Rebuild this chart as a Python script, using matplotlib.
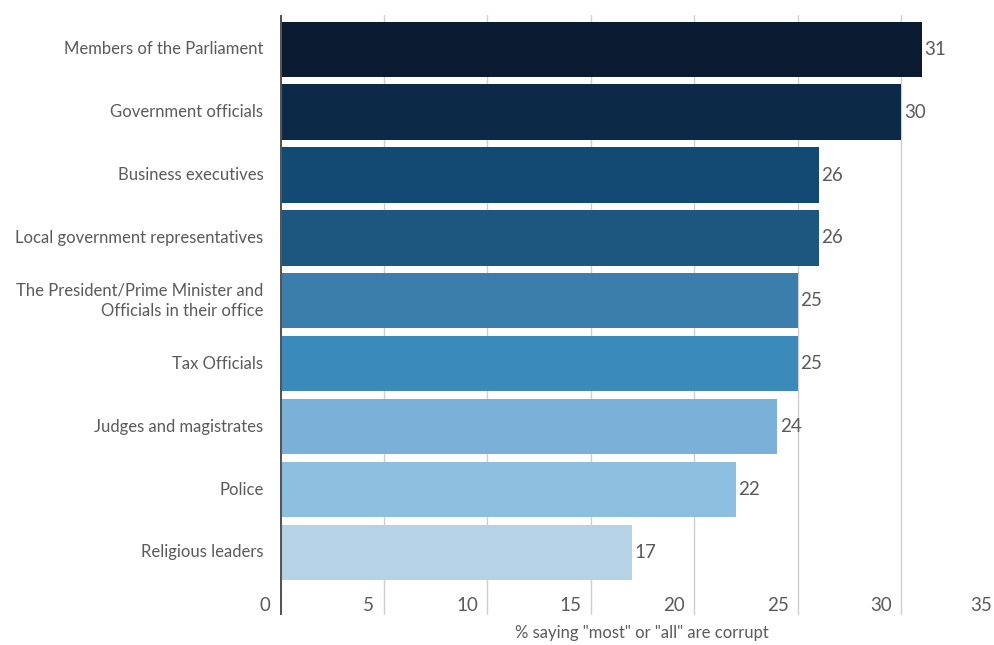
import matplotlib.pyplot as plt

plt.rcParams["font.family"] = ["Lato", "DejaVu Sans"]

# survey data
categories = [
    "Members of the Parliament",
    "Government officials",
    "Business executives",
    "Local government representatives",
    "The President/Prime Minister and\nOfficials in their office",
    "Tax Officials",
    "Judges and magistrates",
    "Police",
    "Religious leaders",
]
values = [31, 30, 26, 26, 25, 25, 24, 22, 17]
bar_colors = [
    "#0a1a30", "#0c2a48", "#134a73", "#1d567e", "#3a7eab",
    "#3a8aba", "#7bb1d8", "#8cbfe0", "#b5d2e6",
]
tick_values = [0, 5, 10, 15, 20, 25, 30, 35]
xlabel = '% saying "most" or "all" are corrupt'

text_gray = "#5a5a5a"

fig = plt.figure(figsize=(9.95, 6.45), dpi=100)
ax = fig.add_axes([280 / 995, 1 - 615 / 645, 725 / 995, 600 / 645])

ypos = list(range(len(values)))
ax.barh(ypos, values, height=0.88, color=bar_colors, zorder=2)
ax.set_xlim(0, 35)
ax.set_ylim(8.995, -0.544)

# grid lines
for t in tick_values[1:]:
    ax.axvline(t, color="#cfcfcf", lw=1.0, zorder=1)
ax.axvline(0, color="#555555", lw=2.2, zorder=3)

for s in ax.spines.values():
    s.set_visible(False)
ax.set_xticks([])
ax.set_yticks([])

# category labels
for y, name in zip(ypos, categories):
    ax.text(-0.8, y, name, ha="right", va="center", fontsize=12,
            color=text_gray, linespacing=1.4)

# value labels
for y, v in zip(ypos, values):
    ax.text(v + 0.12, y, str(v), ha="left", va="center", fontsize=13.5,
            color=text_gray)

# x tick labels, right-aligned just left of each grid line
for t in tick_values:
    dx = 0.45 if t < 35 else 0.6
    ax.text(t - dx, 8.84, str(t), ha="right", va="center", fontsize=13.5,
            color=text_gray, clip_on=False)

fig.text(642 / 995, 1 - 633 / 645, xlabel, ha="center", va="center",
         fontsize=12, color=text_gray)

fig.savefig("out.png", dpi=100, facecolor="white")
